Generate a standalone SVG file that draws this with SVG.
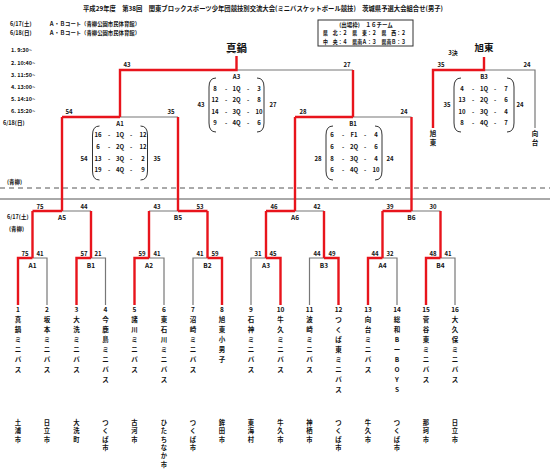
<svg xmlns="http://www.w3.org/2000/svg" width="550" height="471" viewBox="0 0 550 471">
<style>
text{font-family:"Noto Sans CJK JP","Liberation Sans",sans-serif;font-weight:bold;fill:#111;dominant-baseline:central}
.s{font-size:6px;text-anchor:middle}
.m{font-size:6.5px;text-anchor:middle}
.h{font-size:5.5px}
.t{font-size:6.5px;text-anchor:middle}
.c{font-size:6.3px;text-anchor:middle}
.big{font-size:10.5px;text-anchor:middle}
.w{fill:none;stroke:#e8141c;stroke-width:2.4}
.l{fill:none;stroke:#777;stroke-width:1.2}
.p{fill:none;stroke:#333;stroke-width:1}
.rule{stroke:#555;stroke-width:1}
</style>
<rect width="550" height="471" fill="#fff"/>

<g id="header">
<text x="83" y="8" style="font-size:6.5px" textLength="360" lengthAdjust="spacingAndGlyphs">平成29年度　第38回　関東ブロックスポーツ少年団競技別交流大会(ミニバスケットボール競技)　茨城県予選大会組合せ(男子)</text>
<text class="h" x="10" y="24">6/17(土)</text>
<text class="h" x="49" y="24" textLength="91" lengthAdjust="spacingAndGlyphs">Ａ・Ｂコート（青柳公園市民体育館）</text>
<text class="h" x="10" y="33">6/18(日)</text>
<text class="h" x="49" y="33" textLength="91" lengthAdjust="spacingAndGlyphs">Ａ・Ｂコート（青柳公園市民体育館）</text>
<text class="h" x="11" y="50">1. 9:30~</text>
<text class="h" x="11" y="62.5">2. 10:40~</text>
<text class="h" x="11" y="75">3. 11:50~</text>
<text class="h" x="11" y="87">4. 13:00~</text>
<text class="h" x="11" y="99">5. 14:10~</text>
<text class="h" x="11" y="111">6. 15:20~</text>
<text class="h" x="3" y="123">6/18(日)</text>
<text class="h" x="7" y="182">(青柳)</text>
<text class="h" x="7" y="217">6/17(土)</text>
<text class="h" x="9" y="229">(青柳)</text>
</g>

<g id="quota">
<rect x="318" y="20" width="95" height="26" fill="none" stroke="#333" stroke-width="1"/>
<text class="h" x="366" y="25" text-anchor="middle">(出場枠)　１６チーム</text>
<text class="h" x="323" y="33" textLength="83" lengthAdjust="spacingAndGlyphs">県　北：２　県　東：２　県　西：２</text>
<text class="h" x="323" y="41.5" textLength="83" lengthAdjust="spacingAndGlyphs">中　央：４　県南Ａ：３　県南Ｂ：３</text>
</g>

<line class="rule" x1="0" y1="188" x2="550" y2="188" stroke-dasharray="5,4"/>
<line class="rule" x1="0" y1="199" x2="550" y2="199"/>

<g id="connectors">
<path class="l" d="M236.5,70H353 M120,117H178 M353,117H411.5 M62,211H91 M149,211H178 M295,211H324 M411.5,211H440.5 M32.5,258H47V305 M91,258H105.5V305 M149,258H164V305 M207.5,258H193V305 M266,258H251V305 M324,258H309.5V305 M382.5,258H397V305 M440.5,258H455V305 M484,70H535V128"/>
<path class="w" d="M236.5,56V70H120V117 M353,70V117 M62,117H120 M62,117V211 M178,117V211 M295,117H353 M295,117V211 M411.5,117V211 M32.5,211H62 M32.5,211V258 M91,211V258 M178,211H207.5 M149,211V258 M207.5,211V258 M266,211H295 M266,211V258 M324,211V258 M382.5,211H411.5 M382.5,211V258 M440.5,211V258 M18,305V258H32.5 M76.5,305V258H91 M134.5,305V258H149 M222,305V258H207.5 M280.5,305V258H266 M338.5,305V258H324 M368,305V258H382.5 M426,305V258H440.5 M484,57V70H433V128"/>
</g>

<g id="final">
<text class="big" x="236.5" y="47">真鍋</text>
<text class="s" x="127" y="64">43</text>
<text class="s" x="347" y="64">27</text>
<path class="p" d="M216,78Q209,78 209,87V123Q209,132 216,132 M257,78Q264,78 264,87V123Q264,132 257,132"/>
<text class="s" x="236.5" y="76">A3</text>
<text class="s" x="201" y="104">43</text>
<text class="s" x="273" y="104">27</text>
<g class="s">
<text class="s" x="215" y="88">8</text><text class="s" x="226" y="88">-</text><text class="s" x="236.5" y="88">1Q</text><text class="s" x="248" y="88">-</text><text class="s" x="259" y="88">3</text>
<text class="s" x="215" y="99.5">12</text><text class="s" x="226" y="99.5">-</text><text class="s" x="236.5" y="99.5">2Q</text><text class="s" x="248" y="99.5">-</text><text class="s" x="259" y="99.5">8</text>
<text class="s" x="215" y="111">14</text><text class="s" x="226" y="111">-</text><text class="s" x="236.5" y="111">3Q</text><text class="s" x="248" y="111">-</text><text class="s" x="259" y="111">10</text>
<text class="s" x="215" y="122.5">9</text><text class="s" x="226" y="122.5">-</text><text class="s" x="236.5" y="122.5">4Q</text><text class="s" x="248" y="122.5">-</text><text class="s" x="259" y="122.5">6</text>
</g>
</g>

<g id="third">
<text class="big" x="484" y="47" style="font-size:9.5px">旭東</text>
<text class="s" x="453" y="52">3決</text>
<text class="s" x="441" y="64">35</text>
<text class="s" x="527" y="64">24</text>
<text class="t" x="433" y="133">旭</text><text class="t" x="433" y="142">東</text>
<text class="t" x="535" y="133">向</text><text class="t" x="535" y="142">台</text>
<path class="p" d="M461,78Q454,78 454,87V123Q454,132 461,132 M507,78Q514,78 514,87V123Q514,132 507,132"/>
<text class="s" x="484" y="76">B3</text>
<text class="s" x="447" y="104">35</text>
<text class="s" x="520" y="104">24</text>
<text class="s" x="462" y="88">4</text><text class="s" x="473" y="88">-</text><text class="s" x="484" y="88">1Q</text><text class="s" x="495" y="88">-</text><text class="s" x="506" y="88">7</text>
<text class="s" x="462" y="99.5">13</text><text class="s" x="473" y="99.5">-</text><text class="s" x="484" y="99.5">2Q</text><text class="s" x="495" y="99.5">-</text><text class="s" x="506" y="99.5">6</text>
<text class="s" x="462" y="111">10</text><text class="s" x="473" y="111">-</text><text class="s" x="484" y="111">3Q</text><text class="s" x="495" y="111">-</text><text class="s" x="506" y="111">4</text>
<text class="s" x="462" y="122.5">8</text><text class="s" x="473" y="122.5">-</text><text class="s" x="484" y="122.5">4Q</text><text class="s" x="495" y="122.5">-</text><text class="s" x="506" y="122.5">7</text>
</g>

<g id="semiA1">
<text class="s" x="69" y="111">54</text>
<text class="s" x="171" y="111">35</text>
<path class="p" d="M99.5,126Q92.5,126 92.5,135V171Q92.5,180 99.5,180 M140.5,126Q147.5,126 147.5,135V171Q147.5,180 140.5,180"/>
<text class="s" x="120" y="123">A1</text>
<text class="s" x="84" y="158">54</text>
<text class="s" x="157" y="158">35</text>
<text class="s" x="98" y="134">16</text><text class="s" x="109" y="134">-</text><text class="s" x="120" y="134">1Q</text><text class="s" x="131" y="134">-</text><text class="s" x="143" y="134">12</text>
<text class="s" x="98" y="146">6</text><text class="s" x="109" y="146">-</text><text class="s" x="120" y="146">2Q</text><text class="s" x="131" y="146">-</text><text class="s" x="143" y="146">12</text>
<text class="s" x="98" y="158">13</text><text class="s" x="109" y="158">-</text><text class="s" x="120" y="158">3Q</text><text class="s" x="131" y="158">-</text><text class="s" x="143" y="158">2</text>
<text class="s" x="98" y="169.5">19</text><text class="s" x="109" y="169.5">-</text><text class="s" x="120" y="169.5">4Q</text><text class="s" x="131" y="169.5">-</text><text class="s" x="143" y="169.5">9</text>
</g>

<g id="semiB1">
<text class="s" x="303" y="111">28</text>
<text class="s" x="404" y="111">24</text>
<path class="p" d="M333,126Q326,126 326,135V171Q326,180 333,180 M375,126Q382,126 382,135V171Q382,180 375,180"/>
<text class="s" x="353" y="123">B1</text>
<text class="s" x="318" y="158">28</text>
<text class="s" x="390" y="158">24</text>
<text class="s" x="332" y="134">6</text><text class="s" x="343" y="134">-</text><text class="s" x="354" y="134">F1</text><text class="s" x="365" y="134">-</text><text class="s" x="376" y="134">4</text>
<text class="s" x="332" y="146">6</text><text class="s" x="343" y="146">-</text><text class="s" x="354" y="146">2Q</text><text class="s" x="365" y="146">-</text><text class="s" x="376" y="146">6</text>
<text class="s" x="332" y="158">8</text><text class="s" x="343" y="158">-</text><text class="s" x="354" y="158">3Q</text><text class="s" x="365" y="158">-</text><text class="s" x="376" y="158">4</text>
<text class="s" x="332" y="169.5">6</text><text class="s" x="343" y="169.5">-</text><text class="s" x="354" y="169.5">4Q</text><text class="s" x="365" y="169.5">-</text><text class="s" x="376" y="169.5">10</text>
</g>

<g id="round2">
<text class="s" x="40" y="206">75</text><text class="s" x="84" y="206">44</text><text class="m" x="62" y="217">A5</text>
<text class="s" x="157" y="206">43</text><text class="s" x="200" y="206">53</text><text class="m" x="178" y="217">B5</text>
<text class="s" x="274" y="206">46</text><text class="s" x="317" y="206">42</text><text class="m" x="295" y="217">A6</text>
<text class="s" x="390" y="206">39</text><text class="s" x="433" y="206">30</text><text class="m" x="411.5" y="217">B6</text>
</g>

<g id="round1">
<text class="s" x="25" y="253">75</text><text class="s" x="40" y="253">41</text><text class="m" x="32.5" y="265">A1</text>
<text class="s" x="84" y="253">57</text><text class="s" x="98" y="253">21</text><text class="m" x="91" y="265">B1</text>
<text class="s" x="142" y="253">59</text><text class="s" x="157" y="253">41</text><text class="m" x="149" y="265">A2</text>
<text class="s" x="200" y="253">41</text><text class="s" x="215" y="253">59</text><text class="m" x="207.5" y="265">B2</text>
<text class="s" x="258" y="253">31</text><text class="s" x="273" y="253">45</text><text class="m" x="266" y="265">A3</text>
<text class="s" x="317" y="253">44</text><text class="s" x="332" y="253">49</text><text class="m" x="324" y="265">B3</text>
<text class="s" x="375" y="253">44</text><text class="s" x="390" y="253">32</text><text class="m" x="382.5" y="265">A4</text>
<text class="s" x="433" y="253">48</text><text class="s" x="448" y="253">41</text><text class="m" x="440.5" y="265">B4</text>
</g>

<g id="team1"><text class="t" x="18" y="309">1<tspan x="18" y="319">真</tspan><tspan x="18" y="329">鍋</tspan><tspan x="18" y="339">ミ</tspan><tspan x="18" y="349">ニ</tspan><tspan x="18" y="359">バ</tspan><tspan x="18" y="369">ス</tspan></text>
<text class="c" x="18" y="422">土<tspan x="18" y="430.3">浦</tspan><tspan x="18" y="438.6">市</tspan></text></g>
<g id="team2"><text class="t" x="47" y="309">2<tspan x="47" y="319">坂</tspan><tspan x="47" y="329">本</tspan><tspan x="47" y="339">ミ</tspan><tspan x="47" y="349">ニ</tspan><tspan x="47" y="359">バ</tspan><tspan x="47" y="369">ス</tspan></text>
<text class="c" x="47" y="422">日<tspan x="47" y="430.3">立</tspan><tspan x="47" y="438.6">市</tspan></text></g>
<g id="team3"><text class="t" x="76.5" y="309">3<tspan x="76.5" y="319">大</tspan><tspan x="76.5" y="329">洗</tspan><tspan x="76.5" y="339">ミ</tspan><tspan x="76.5" y="349">ニ</tspan><tspan x="76.5" y="359">バ</tspan><tspan x="76.5" y="369">ス</tspan></text>
<text class="c" x="76.5" y="422">大<tspan x="76.5" y="430.3">洗</tspan><tspan x="76.5" y="438.6">町</tspan></text></g>
<g id="team4"><text class="t" x="105.5" y="309">4<tspan x="105.5" y="319">今</tspan><tspan x="105.5" y="329">鹿</tspan><tspan x="105.5" y="339">島</tspan><tspan x="105.5" y="349">ミ</tspan><tspan x="105.5" y="359">ニ</tspan><tspan x="105.5" y="369">バ</tspan><tspan x="105.5" y="379">ス</tspan></text>
<text class="c" x="105.5" y="422">つ<tspan x="105.5" y="430.3">く</tspan><tspan x="105.5" y="438.6">ば</tspan><tspan x="105.5" y="446.9">市</tspan></text></g>
<g id="team5"><text class="t" x="134.5" y="309">5<tspan x="134.5" y="319">諸</tspan><tspan x="134.5" y="329">川</tspan><tspan x="134.5" y="339">ミ</tspan><tspan x="134.5" y="349">ニ</tspan><tspan x="134.5" y="359">バ</tspan><tspan x="134.5" y="369">ス</tspan></text>
<text class="c" x="134.5" y="422">古<tspan x="134.5" y="430.3">河</tspan><tspan x="134.5" y="438.6">市</tspan></text></g>
<g id="team6"><text class="t" x="164" y="309">6<tspan x="164" y="319">東</tspan><tspan x="164" y="329">石</tspan><tspan x="164" y="339">川</tspan><tspan x="164" y="349">ミ</tspan><tspan x="164" y="359">ニ</tspan><tspan x="164" y="369">バ</tspan><tspan x="164" y="379">ス</tspan></text>
<text class="c" x="164" y="422">ひ<tspan x="164" y="430.3">た</tspan><tspan x="164" y="438.6">ち</tspan><tspan x="164" y="446.9">な</tspan><tspan x="164" y="455.2">か</tspan><tspan x="164" y="463.5">市</tspan></text></g>
<g id="team7"><text class="t" x="193" y="309">7<tspan x="193" y="319">沼</tspan><tspan x="193" y="329">崎</tspan><tspan x="193" y="339">ミ</tspan><tspan x="193" y="349">ニ</tspan><tspan x="193" y="359">バ</tspan><tspan x="193" y="369">ス</tspan></text>
<text class="c" x="193" y="422">つ<tspan x="193" y="430.3">く</tspan><tspan x="193" y="438.6">ば</tspan><tspan x="193" y="446.9">市</tspan></text></g>
<g id="team8"><text class="t" x="222" y="309">8<tspan x="222" y="319">旭</tspan><tspan x="222" y="329">東</tspan><tspan x="222" y="339">小</tspan><tspan x="222" y="349">男</tspan><tspan x="222" y="359">子</tspan></text>
<text class="c" x="222" y="422">鉾<tspan x="222" y="430.3">田</tspan><tspan x="222" y="438.6">市</tspan></text></g>
<g id="team9"><text class="t" x="251" y="309">9<tspan x="251" y="319">石</tspan><tspan x="251" y="329">神</tspan><tspan x="251" y="339">ミ</tspan><tspan x="251" y="349">ニ</tspan><tspan x="251" y="359">バ</tspan><tspan x="251" y="369">ス</tspan></text>
<text class="c" x="251" y="422">東<tspan x="251" y="430.3">海</tspan><tspan x="251" y="438.6">村</tspan></text></g>
<g id="team10"><text class="t" x="280.5" y="309">10<tspan x="280.5" y="319">牛</tspan><tspan x="280.5" y="329">久</tspan><tspan x="280.5" y="339">ミ</tspan><tspan x="280.5" y="349">ニ</tspan><tspan x="280.5" y="359">バ</tspan><tspan x="280.5" y="369">ス</tspan></text>
<text class="c" x="280.5" y="422">牛<tspan x="280.5" y="430.3">久</tspan><tspan x="280.5" y="438.6">市</tspan></text></g>
<g id="team11"><text class="t" x="309.5" y="309">11<tspan x="309.5" y="319">波</tspan><tspan x="309.5" y="329">崎</tspan><tspan x="309.5" y="339">ミ</tspan><tspan x="309.5" y="349">ニ</tspan><tspan x="309.5" y="359">バ</tspan><tspan x="309.5" y="369">ス</tspan></text>
<text class="c" x="309.5" y="422">神<tspan x="309.5" y="430.3">栖</tspan><tspan x="309.5" y="438.6">市</tspan></text></g>
<g id="team12"><text class="t" x="338.5" y="309">12<tspan x="338.5" y="319">つ</tspan><tspan x="338.5" y="329">く</tspan><tspan x="338.5" y="339">ば</tspan><tspan x="338.5" y="349">東</tspan><tspan x="338.5" y="359">ミ</tspan><tspan x="338.5" y="369">ニ</tspan><tspan x="338.5" y="379">バ</tspan><tspan x="338.5" y="389">ス</tspan></text>
<text class="c" x="338.5" y="422">つ<tspan x="338.5" y="430.3">く</tspan><tspan x="338.5" y="438.6">ば</tspan><tspan x="338.5" y="446.9">市</tspan></text></g>
<g id="team13"><text class="t" x="368" y="309">13<tspan x="368" y="319">向</tspan><tspan x="368" y="329">台</tspan><tspan x="368" y="339">ミ</tspan><tspan x="368" y="349">ニ</tspan><tspan x="368" y="359">バ</tspan><tspan x="368" y="369">ス</tspan></text>
<text class="c" x="368" y="422">牛<tspan x="368" y="430.3">久</tspan><tspan x="368" y="438.6">市</tspan></text></g>
<g id="team14"><text class="t" x="397" y="309">14<tspan x="397" y="319">総</tspan><tspan x="397" y="329">和</tspan><tspan x="397" y="339">B</tspan><tspan x="397" y="349">ー</tspan><tspan x="397" y="359">B</tspan><tspan x="397" y="369">O</tspan><tspan x="397" y="379">Y</tspan><tspan x="397" y="389">S</tspan></text>
<text class="c" x="397" y="422">つ<tspan x="397" y="430.3">く</tspan><tspan x="397" y="438.6">ば</tspan><tspan x="397" y="446.9">市</tspan></text></g>
<g id="team15"><text class="t" x="426" y="309">15<tspan x="426" y="319">菅</tspan><tspan x="426" y="329">谷</tspan><tspan x="426" y="339">東</tspan><tspan x="426" y="349">ミ</tspan><tspan x="426" y="359">ニ</tspan><tspan x="426" y="369">バ</tspan><tspan x="426" y="379">ス</tspan></text>
<text class="c" x="426" y="422">那<tspan x="426" y="430.3">珂</tspan><tspan x="426" y="438.6">市</tspan></text></g>
<g id="team16"><text class="t" x="455" y="309">16<tspan x="455" y="319">大</tspan><tspan x="455" y="329">久</tspan><tspan x="455" y="339">保</tspan><tspan x="455" y="349">ミ</tspan><tspan x="455" y="359">ニ</tspan><tspan x="455" y="369">バ</tspan><tspan x="455" y="379">ス</tspan></text>
<text class="c" x="455" y="422">日<tspan x="455" y="430.3">立</tspan><tspan x="455" y="438.6">市</tspan></text></g>
</svg>
